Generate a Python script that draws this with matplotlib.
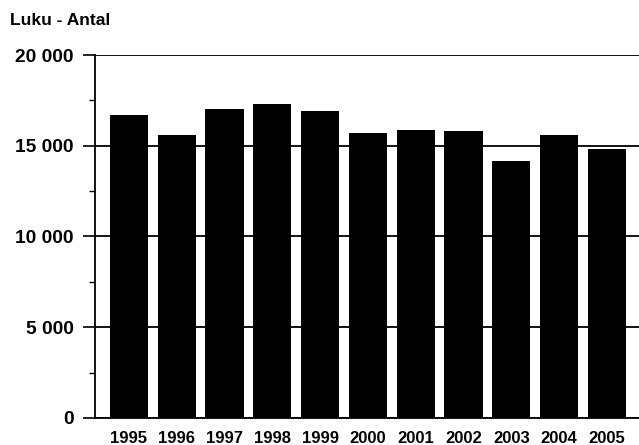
import matplotlib.pyplot as plt
from matplotlib.ticker import FuncFormatter, MultipleLocator

# Data
years = ['1995', '1996', '1997', '1998', '1999', '2000',
         '2001', '2002', '2003', '2004', '2005']
counts = [16700, 15600, 17000, 17300, 16900, 15700,
          15850, 15800, 14150, 15600, 14800]

plt.rcParams['font.family'] = ['Liberation Sans', 'DejaVu Sans']
plt.rcParams['font.weight'] = 'bold'


def thousands(v, pos):
    return f'{int(v):,}'.replace(',', ' ')


def main():
    fig = plt.figure(figsize=(6.39, 4.45), dpi=100)
    ax = fig.add_axes([0.1487, 0.0607, 0.8513, 0.8157])

    x = range(len(years))
    ax.bar(x, counts, width=0.8, color='black', zorder=3)

    ax.set_xlim(-0.71, 10.67)
    ax.set_ylim(0, 20000)
    ax.set_xticks(list(x))
    ax.set_xticklabels(years)
    ax.yaxis.set_major_locator(MultipleLocator(5000))
    ax.yaxis.set_minor_locator(MultipleLocator(2500))
    ax.yaxis.set_major_formatter(FuncFormatter(thousands))

    ax.grid(axis='y', which='major', color='black', linewidth=1.3, zorder=1)
    ax.tick_params(axis='x', length=0, pad=9.5, labelsize=12)
    ax.tick_params(axis='y', which='major', length=8.5, width=1.2,
                   pad=7, labelsize=13.8)
    ax.tick_params(axis='y', which='minor', length=4, width=1.0)

    for side in ['top', 'right']:
        ax.spines[side].set_visible(False)
    ax.spines['left'].set_linewidth(1.3)
    ax.spines['bottom'].set_linewidth(1.3)

    fig.text(0.016, 0.955, 'Luku - Antal', fontsize=12.5, fontweight='bold',
             va='center', ha='left')

    fig.savefig('out.png', dpi=100)


if __name__ == '__main__':
    main()
